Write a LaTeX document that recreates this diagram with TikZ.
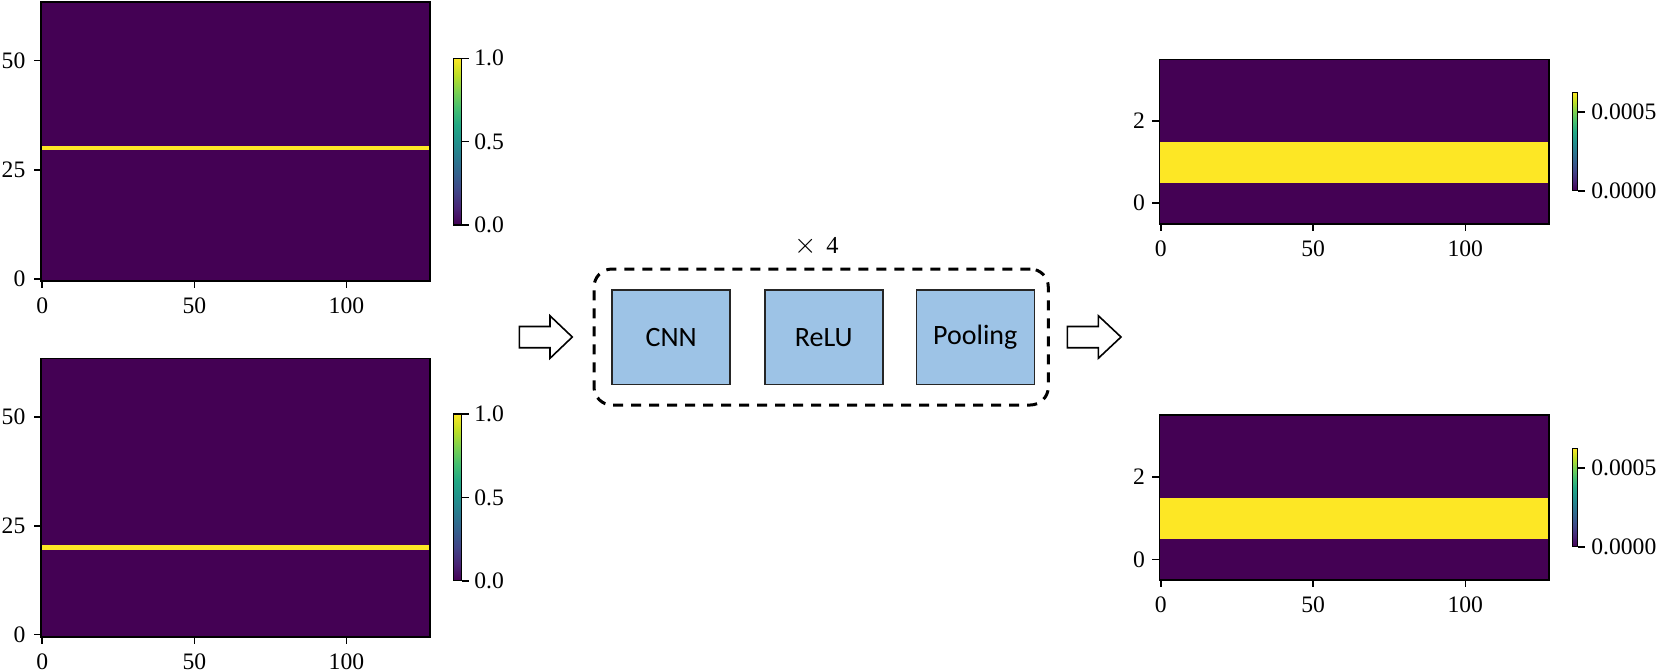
\documentclass[tikz,border=0pt]{standalone}
\usepackage{fontspec}
\setmainfont{Liberation Serif}
\newfontfamily\boxfont{Carlito}
\definecolor{vir0}{RGB}{68,1,84}
\definecolor{vir1}{RGB}{72,36,117}
\definecolor{vir2}{RGB}{65,68,135}
\definecolor{vir3}{RGB}{53,95,141}
\definecolor{vir4}{RGB}{42,120,142}
\definecolor{vir5}{RGB}{33,145,140}
\definecolor{vir6}{RGB}{34,168,132}
\definecolor{vir7}{RGB}{68,191,112}
\definecolor{vir8}{RGB}{122,209,81}
\definecolor{vir9}{RGB}{189,223,38}
\definecolor{vir10}{RGB}{253,231,37}
\definecolor{boxblue}{RGB}{157,195,230}
\pgfdeclareverticalshading{viridis}{100bp}{color(0bp)=(vir0); color(25bp)=(vir0); color(30bp)=(vir1); color(35bp)=(vir2); color(40bp)=(vir3); color(45bp)=(vir4); color(50bp)=(vir5); color(55bp)=(vir6); color(60bp)=(vir7); color(65bp)=(vir8); color(70bp)=(vir9); color(75bp)=(vir10); color(100bp)=(vir10)}
\tikzset{
  frame/.style={draw=black, line width=0.8pt},
  tickmark/.style={line width=0.8pt},
  ticklab/.style={inner sep=0pt, font=\fontsize{11.8}{14}\selectfont},
  cbarframe/.style={draw=black, line width=0.6pt},
  layerbox/.style={draw=black!85, line width=0.8pt, fill=boxblue, minimum width=59pt, minimum height=47.2pt, inner sep=0pt, font=\boxfont\fontsize{14}{16}\selectfont},
  loopbox/.style={draw=black, line width=1.5pt, dash pattern=on 5pt off 4pt, rounded corners=9pt, minimum width=227.15pt, minimum height=68pt, inner sep=0pt},
  blockarrow/.style={draw=black, line width=0.8pt, fill=white, line join=miter},
}
\newcommand{\mycbar}[4]{%
  \shade[shading=viridis] (#1,#3) rectangle (#2,#4);
  \draw[cbarframe] (#1,#3) rectangle (#2,#4);
}
\begin{document}
\begin{tikzpicture}[x=0.5pt,y=-0.5pt]
\useasboundingbox (0,0) rectangle (1662,671);

% ---------- top-left heatmap ----------
\fill[vir0] (40.7,1.7) rectangle (430,281);
\fill[vir10] (40.7,145.7) rectangle (430,150.1);
\draw[frame] (40.7,1.7) rectangle (430,281);
\foreach \v/\y in {0/278.8,25/169.7,50/60.6}{
  \draw[tickmark] (40.7,\y) -- ++(-7,0);
  \node[ticklab,anchor=east] (tly\v) at (25.7,\y) {\v};
}
\foreach \v/\x in {0/42.2,50/194.3,100/346.4}{
  \draw[tickmark] (\x,281) -- ++(0,7);
  \node[ticklab,anchor=north] (tlx\v) at (\x,297.5) {\v};
}
\mycbar{453.3}{461.7}{58.3}{225}
\foreach \v/\y in {1.0/58.3,0.5/141.65,0.0/225}{
  \draw[tickmark] (461.7,\y) -- ++(7,0);
  \node[ticklab,anchor=west] (tlc\v) at (474,\y) {\v};
}

% ---------- bottom-left heatmap ----------
\fill[vir0] (40.7,358.3) rectangle (430,636.7);
\fill[vir10] (40.7,545.35) rectangle (430,549.7);
\draw[frame] (40.7,358.3) rectangle (430,636.7);
\foreach \v/\y in {0/634.5,25/525.8,50/417.0}{
  \draw[tickmark] (40.7,\y) -- ++(-7,0);
  \node[ticklab,anchor=east] (bly\v) at (25.7,\y) {\v};
}
\foreach \v/\x in {0/42.2,50/194.3,100/346.4}{
  \draw[tickmark] (\x,636.7) -- ++(0,7);
  \node[ticklab,anchor=north] (blx\v) at (\x,653.2) {\v};
}
\mycbar{453.3}{461.7}{414}{580.7}
\foreach \v/\y in {1.0/414,0.5/497.35,0.0/580.7}{
  \draw[tickmark] (461.7,\y) -- ++(7,0);
  \node[ticklab,anchor=west] (blc\v) at (474,\y) {\v};
}

% ---------- top-right heatmap ----------
\fill[vir0] (1159.3,59.3) rectangle (1549.1,223.7);
\fill[vir10] (1159.3,141.5) rectangle (1549.1,182.6);
\draw[frame] (1159.3,59.3) rectangle (1549.1,223.7);
\foreach \v/\y in {0/203.15,2/120.95}{
  \draw[tickmark] (1159.3,\y) -- ++(-7,0);
  \node[ticklab,anchor=east] (try\v) at (1145.3,\y) {\v};
}
\foreach \v/\x in {0/1160.8,50/1313.1,100/1465.3}{
  \draw[tickmark] (\x,223.7) -- ++(0,7);
  \node[ticklab,anchor=north] (trx\v) at (\x,240.5) {\v};
}
\mycbar{1572.5}{1577.5}{92.3}{190.7}
\foreach \v/\y in {0.0005/111.7,0.0000/190.7}{
  \draw[tickmark] (1577.5,\y) -- ++(7,0);
  \node[ticklab,anchor=west] (trc\v) at (1591,\y) {\v};
}

% ---------- bottom-right heatmap ----------
\fill[vir0] (1159.3,415) rectangle (1549.1,580);
\fill[vir10] (1159.3,497.5) rectangle (1549.1,538.75);
\draw[frame] (1159.3,415) rectangle (1549.1,580);
\foreach \v/\y in {0/559.4,2/476.9}{
  \draw[tickmark] (1159.3,\y) -- ++(-7,0);
  \node[ticklab,anchor=east] (bry\v) at (1145.3,\y) {\v};
}
\foreach \v/\x in {0/1160.8,50/1313.1,100/1465.3}{
  \draw[tickmark] (\x,580) -- ++(0,7);
  \node[ticklab,anchor=north] (brx\v) at (\x,596.8) {\v};
}
\mycbar{1572.5}{1577.5}{448.3}{546.7}
\foreach \v/\y in {0.0005/467.7,0.0000/546.7}{
  \draw[tickmark] (1577.5,\y) -- ++(7,0);
  \node[ticklab,anchor=west] (brc\v) at (1591,\y) {\v};
}

% ---------- middle block ----------
\node[loopbox] (loop) at (821.15,337) {};
\node[layerbox] (cnn) at (671.2,337.4) {CNN};
\node[layerbox] (relu) at (823.75,337.4) {ReLU};
\node[layerbox] (pool) at (975.3,337.4) {Pooling};
\node[inner sep=0pt] (rep) at (816.7,246.5) {\fontsize{14}{16}\selectfont$\times$\hspace{4.5pt}\fontsize{12.2}{15}\selectfont 4};

% ---------- block arrows ----------
\coordinate (inarrow) at (519.3,337);
\coordinate (outarrow) at (1067.3,337);
\draw[blockarrow] (inarrow) ++(0,-10.5) -- ++(30.7,0) -- ++(0,-10.7) -- ++(22.3,21.2) -- ++(-22.3,21.3) -- ++(0,-10.6) -- ++(-30.7,0) -- cycle;
\draw[blockarrow] (outarrow) ++(0,-10.5) -- ++(31,0) -- ++(0,-10.8) -- ++(22.7,21.3) -- ++(-22.7,21.3) -- ++(0,-10.6) -- ++(-31,0) -- cycle;
\end{tikzpicture}
\end{document}
